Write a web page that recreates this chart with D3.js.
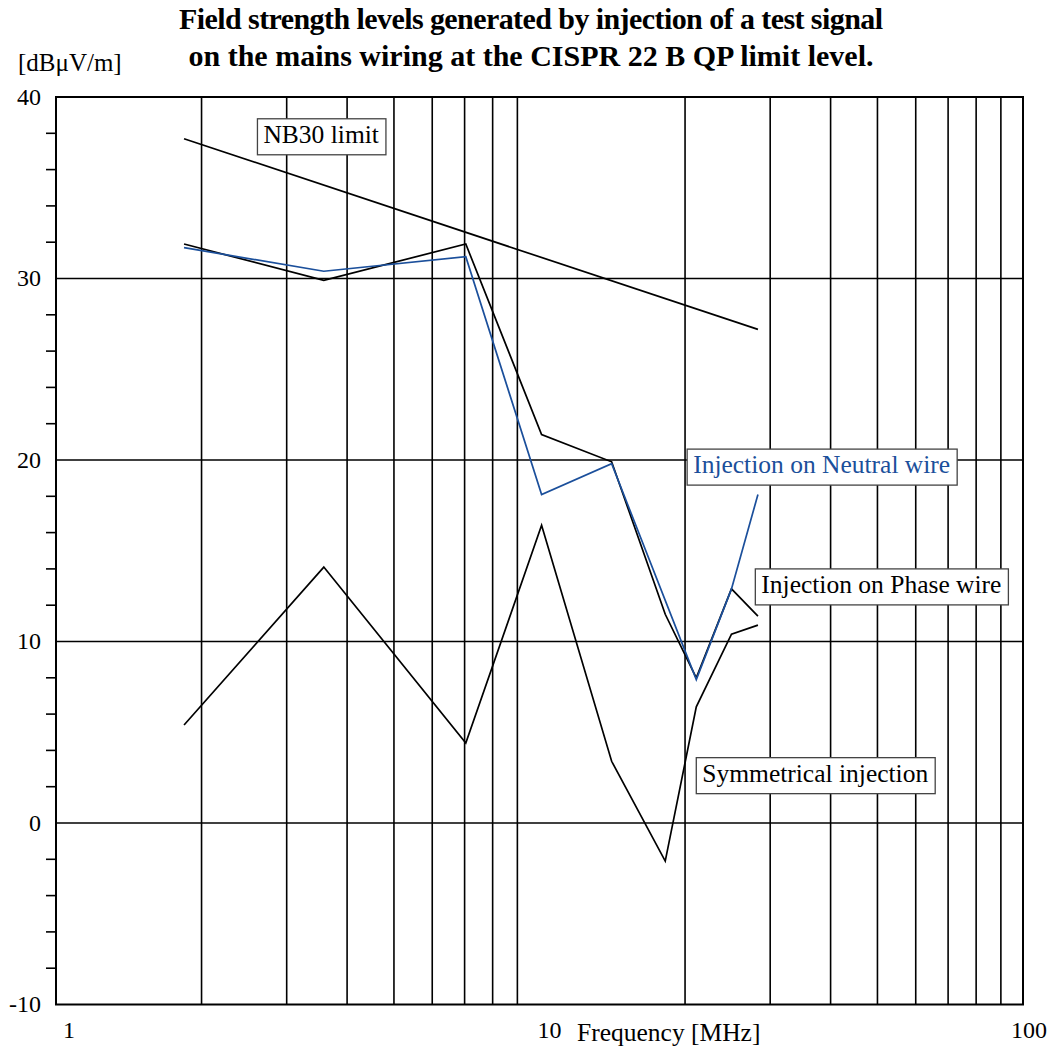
<!DOCTYPE html>
<html>
<head>
<meta charset="utf-8">
<script src="https://cdn.jsdelivr.net/npm/d3@7"></script>
<style>
  body { margin: 0; background: #fff; }
  svg text { font-family: "Liberation Serif", "Times New Roman", serif; }
</style>
</head>
<body>
<div id="chart"></div>
<script>
//data: frequency [MHz] and field strength [dBuV/m]
const freqs = [1.84, 3.58, 7.04, 10.1, 14.1, 18.2, 21.1, 24.95, 28.3];
const phaseWire = [31.9, 29.9, 31.9, 21.4, 19.9, 11.5, 8.0, 12.9, 11.4];
const symmetrical = [5.4, 14.1, 4.4, 16.4, 3.4, -2.1, 6.4, 10.4, 10.9];
const neutralFreqs = [1.84, 3.58, 7.04, 10.1, 14.1, 21.1, 24.95, 28.3];
const neutralWire = [31.7, 30.4, 31.2, 18.1, 19.8, 7.9, 12.9, 18.1];
const nb30Freqs = [1.84, 28.3];
const nb30Limit = [37.7, 27.2];

//axis values
const yTicks = [-10, 0, 10, 20, 30, 40];
const yMinor = d3.range(-8, 40, 2).filter((d) => d % 10 !== 0);
const xGrid = [2, 3, 4, 5, 6, 7, 8, 9, 20, 30, 40, 50, 60, 70, 80, 90];
const xTickLabels = ["1", "10", "100"];

//size
const width = 1055;
const height = 1050;
const margin = { left: 56, top: 97, right: 32, bottom: 45.5 };

const blue = "#1b4f9b";

//scales
const x = d3.scaleLog().domain([1, 100]).range([margin.left, width - margin.right]);
const y = d3.scaleLinear().domain([-10, 40]).range([height - margin.bottom, margin.top]);

//series
const series = [
  { f: nb30Freqs, v: nb30Limit, color: "#000" },
  { f: freqs, v: phaseWire, color: "#000" },
  { f: freqs, v: symmetrical, color: "#000" },
  { f: neutralFreqs, v: neutralWire, color: blue },
];

//label boxes (anchored at top-left, in data units)
const labels = [
  { text: "NB30 limit", f: 2.61, v: 38.8, color: "#000" },
  { text: "Injection on Neutral wire", f: 20.2, v: 20.6, color: blue },
  { text: "Injection on Phase wire", f: 27.95, v: 14.0, color: "#000" },
  { text: "Symmetrical injection", f: 21.1, v: 3.6, color: "#000" },
];

const svg = d3.select("#chart")
  .append("svg")
  .attr("width", width)
  .attr("height", height);

//title
const title = svg.append("text")
  .attr("x", 531)
  .attr("text-anchor", "middle")
  .attr("font-size", "30px")
  .attr("font-weight", "bold");
title.append("tspan")
  .attr("x", 531)
  .attr("y", 29)
  .attr("textLength", 704)
  .attr("lengthAdjust", "spacing")
  .text("Field strength levels generated by injection of a test signal");
title.append("tspan")
  .attr("x", 531)
  .attr("y", 66)
  .text("on the mains wiring at the CISPR 22 B QP limit level.");

//unit
svg.append("text")
  .attr("x", 18)
  .attr("y", 71)
  .attr("font-size", "25px")
  .text("[dBμV/m]");

const [x0, x1] = x.range();
const [y0, y1] = y.range();

//grid
svg.append("g")
  .selectAll("line")
  .data(xGrid)
  .join("line")
  .attr("x1", (d) => x(d))
  .attr("x2", (d) => x(d))
  .attr("y1", y1)
  .attr("y2", y0)
  .attr("stroke", "#000")
  .attr("stroke-width", 1.6);

svg.append("g")
  .selectAll("line")
  .data(yTicks.slice(1, -1))
  .join("line")
  .attr("x1", x0)
  .attr("x2", x1)
  .attr("y1", (d) => y(d))
  .attr("y2", (d) => y(d))
  .attr("stroke", "#000")
  .attr("stroke-width", 1.6);

//minor ticks on the left
svg.append("g")
  .selectAll("line")
  .data(yMinor)
  .join("line")
  .attr("x1", x0 - 10)
  .attr("x2", x0)
  .attr("y1", (d) => y(d))
  .attr("y2", (d) => y(d))
  .attr("stroke", "#000")
  .attr("stroke-width", 1.6);

//frame
svg.append("rect")
  .attr("x", x0)
  .attr("y", y1)
  .attr("width", x1 - x0)
  .attr("height", y0 - y1)
  .attr("fill", "none")
  .attr("stroke", "#000")
  .attr("stroke-width", 2);

//y labels
svg.append("g")
  .selectAll("text")
  .data(yTicks)
  .join("text")
  .attr("x", x0 - 15)
  .attr("y", (d) => y(d))
  .attr("dy", "0.33em")
  .attr("text-anchor", "end")
  .attr("font-size", "24px")
  .text((d) => d);

//x labels
const xLabelNudge = [13, 10, 6];
svg.append("g")
  .selectAll("text")
  .data(xTickLabels)
  .join("text")
  .attr("x", (d, i) => x(+d) + xLabelNudge[i])
  .attr("y", 1038)
  .attr("text-anchor", "middle")
  .attr("font-size", "24px")
  .text((d) => d);

svg.append("text")
  .attr("x", 577)
  .attr("y", 1041)
  .attr("font-size", "25.5px")
  .text("Frequency [MHz]");

//lines
const line = d3.line()
  .x((d) => x(d[0]))
  .y((d) => y(d[1]));

svg.append("g")
  .selectAll("path")
  .data(series)
  .join("path")
  .attr("d", (s) => line(d3.zip(s.f, s.v)))
  .attr("fill", "none")
  .attr("stroke", (s) => s.color)
  .attr("stroke-width", 1.7)
  .attr("stroke-linejoin", "miter");

//label boxes
const lab = svg.append("g")
  .selectAll("g")
  .data(labels)
  .join("g")
  .attr("transform", (d) => `translate(${x(d.f)},${y(d.v)})`);

lab.append("rect")
  .attr("height", 36)
  .attr("fill", "#fff")
  .attr("stroke", "#444")
  .attr("stroke-width", 1.3);

const labText = lab.append("text")
  .attr("x", 6)
  .attr("y", 24)
  .attr("font-size", "25.5px")
  .attr("fill", (d) => d.color)
  .text((d) => d.text);

labText.each(function () {
  const w = this.getComputedTextLength();
  d3.select(this.parentNode).select("rect").attr("width", w + 13);
});
</script>
</body>
</html>
